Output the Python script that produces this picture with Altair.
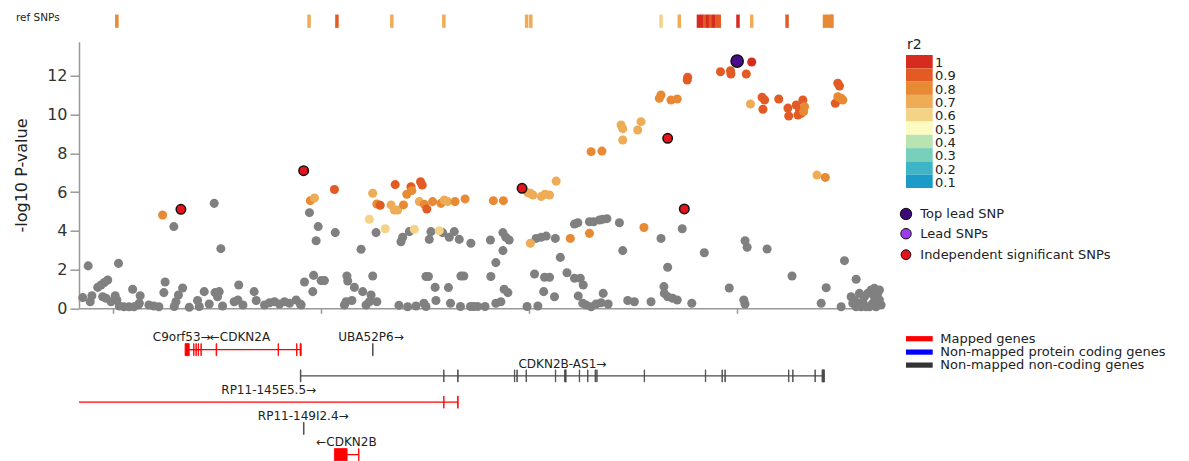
import altair as alt
import pandas as pd

# ---------------- data (positions in kb on chr9, -log10 P) ----------------
X_MIN, X_MAX = 21941.8, 22134.1
Y_MAX = 13.77

gray_pos = [21942.7, 21944.0, 21944.5, 21944.9, 21946.3, 21947.1, 21947.9, 21948.7, 21947.5, 21948.3,
            21949.5, 21950.5, 21950.9, 21951.3, 21951.5, 21952.6, 21953.8, 21955.0, 21956.0, 21954.7,
            21956.5, 21956.3, 21958.6, 21959.8, 21961.0, 21962.5, 21962.2, 21964.6, 21966.7, 21965.7,
            21965.1, 21964.7, 21968.3, 21970.3, 21970.7, 21971.9, 21973.1, 21974.3, 21974.5, 21975.1,
            21975.5, 21975.9, 21976.3, 21979.1, 21980.0, 21980.2, 21981.2, 21983.9, 21984.4, 21986.4,
            21987.6, 21988.8, 21990.0, 21991.2, 21992.4, 21994.0, 21995.2, 21996.0, 21997.2, 21995.0,
            21998.0, 21998.2, 21999.3, 21998.8, 22000.0, 22000.8, 22003.4, 22005.6, 22006.0, 22007.4,
            22006.2, 22006.4, 22008.0, 22009.6, 22010.0, 22010.8, 22011.6, 22012.0, 22012.4, 22013.4,
            22013.2, 22018.7, 22020.8, 22022.8, 22024.7, 22025.2, 22019.2, 22019.6, 22021.2, 22025.2,
            22025.8, 22026.0, 22026.4, 22027.4, 22027.6, 22029.2, 22030.6, 22030.8, 22031.1, 22032.0,
            22033.2, 22033.5, 22033.6, 22034.3, 22036.0, 22035.9, 22036.7, 22037.6, 22039.4, 22040.8,
            22040.7, 22042.0, 22042.0, 22043.2, 22043.7, 22043.7, 22044.4, 22045.2, 22044.0, 22044.9,
            22049.5, 22051.7, 22052.9, 22054.1, 22056.3, 22057.5, 22051.3, 22053.7, 22054.9, 22053.5,
            22056.1, 22052.1, 22060.9, 22061.7, 22064.5, 22065.5, 22066.9, 22067.7, 22068.7, 22059.1,
            22060.9, 22062.3, 22063.0, 22061.8, 22062.9, 22063.7, 22064.9, 22066.1, 22067.3, 22069.0,
            22067.8, 22071.7, 22072.5, 22073.7, 22075.3, 22079.3, 22081.7, 22082.4, 22082.5, 22083.3,
            22084.5, 22085.6, 22083.3, 22086.8, 22089.1, 22092.1, 22098.1, 22101.6, 22101.9, 22101.9,
            22102.4, 22107.2, 22113.2, 22125.8, 22128.6, 22121.4, 22120.2, 22125.0,
            22127.4, 22128.2, 22129.0, 22129.8, 22130.6, 22131.4, 22132.2, 22133.0, 22133.8, 22134.2,
            22132.6, 22131.0, 22128.6, 22131.8, 22133.4, 22134.6, 22129.4, 22127.8, 22130.2, 22133.0,
            22134.2]
gray_logp = [0.55, 2.19, 0.34, 0.65, 1.08, 1.20, 1.33, 1.46, 0.60, 0.52,
             0.34, 0.65, 0.43, 2.32, 0.12, 0.08, 0.08, 0.08, 0.17, 0.98,
             0.65, 0.26, 0.17, 0.12, 0.08, 1.36, 0.81, 4.22, 1.05, 0.69,
             0.34, 0.09, 0.05, 0.40, 0.09, 0.86, 0.22, 5.42, 0.81, 0.60,
             0.86, 3.08, 0.12, 0.34, 0.43, 1.20, 0.17, 0.86, 0.40, 0.17,
             0.29, 0.34, 0.22, 0.34, 0.26, 0.43, 0.17, 1.36, 4.94, 0.22,
             0.86, 1.70, 4.22, 3.49, 1.43, 1.43, 3.91, 0.17, 0.34, 0.40,
             1.67, 1.41, 1.08, 3.05, 0.86, 0.17, 0.34, 0.69, 1.67, 0.34,
             3.91, 0.15, 0.08, 0.12, 0.26, 0.09, 3.44, 3.67, 3.96, 1.64,
             1.64, 3.56, 3.96, 1.08, 0.40, 3.91, 1.07, 3.67, 0.26, 3.96,
             3.56, 0.09, 1.67, 1.67, 3.36, 0.09, 0.09, 0.09, 0.09, 1.64,
             3.53, 2.36, 0.26, 0.34, 2.98, 3.91, 3.67, 3.53, 0.98, 0.81,
             0.09, 3.61, 3.67, 3.73, 3.61, 2.63, 1.77, 1.60, 1.60, 0.86,
             0.60, 0.12, 4.35, 4.42, 4.47, 4.47, 4.56, 4.60, 4.63, 1.84,
             1.55, 1.55, 1.20, 0.64, 0.26, 0.17, 0.08, 0.22, 0.29, 0.22,
             0.77, 4.42, 2.98, 0.40, 0.34, 0.34, 3.61, 1.12, 0.77, 0.60,
             0.52, 0.43, 2.12, 4.11, 0.26, 2.87, 1.05, 0.43, 0.22, 3.49,
             3.15, 3.06, 1.67, 2.46, 1.50, 1.06, 0.26, 0.08,
             0.60, 0.43, 0.26, 0.08, 0.60, 0.77, 0.95, 1.03, 0.77, 0.43,
             0.26, 0.08, 0.08, 0.08, 0.08, 0.17, 0.77, 0.26, 0.34, 0.60,
             0.95]

ld_pos = [21961.9, 21997.4, 21998.4, 22003.2, 22011.6, 22012.4, 22013.4, 22014.2, 22015.4, 22016.8,
          22017.6, 22018.4, 22017.8, 22019.8, 22020.6, 22021.6, 22021.8, 22022.4, 22023.9, 22024.3,
          22023.6, 22024.8, 22025.4, 22026.8, 22028.4, 22028.8, 22029.6, 22030.4, 22032.2, 22034.6,
          22041.4, 22043.8, 22049.7, 22050.3, 22050.9, 22052.9, 22053.8, 22054.9, 22056.5, 22050.3,
          22059.9, 22064.5, 22064.9, 22067.5, 22072.5, 22072.1, 22072.5, 22076.1, 22076.9, 22077.6,
          22081.3, 22081.7, 22084.1, 22085.6, 22088.0, 22088.1, 22096.0, 22098.4, 22098.5, 22102.2,
          22103.5, 22103.2, 22106.0, 22106.6, 22106.2, 22110.0, 22112.2, 22112.4, 22114.2, 22115.0,
          22115.8, 22116.2, 22114.6, 22115.4, 22116.0, 22124.2, 22124.6, 22123.6, 22125.0, 22125.4,
          22124.2, 22119.2, 22121.2]
ld_logp = [4.82, 5.56, 5.70, 6.14, 4.60, 5.94, 5.39, 5.32, 4.11, 5.34,
           5.08, 5.08, 6.39, 5.34, 5.89, 6.28, 6.08, 4.08, 6.54, 6.37,
           5.51, 5.37, 5.13, 5.51, 4.01, 5.42, 5.59, 5.51, 5.51, 5.65,
           5.56, 5.56, 5.97, 5.94, 5.85, 5.77, 5.89, 5.85, 6.57, 3.36,
           3.61, 3.87, 8.09, 8.12, 8.69, 9.47, 9.28, 9.21, 9.64, 4.17,
           10.85, 11.02, 10.76, 10.81, 11.79, 11.93, 12.22, 12.27, 12.10, 12.10,
           12.72, 10.55, 10.90, 10.76, 10.28, 10.81, 10.34, 9.93, 10.50, 10.24,
           10.76, 10.41, 9.98, 10.07, 10.16, 11.62, 11.48, 10.59, 10.85, 10.76,
           10.93, 6.88, 6.76]
ld_r2 = [0.8, 0.8, 0.7, 0.9, 0.6, 0.7, 0.8, 0.9, 0.6, 0.7,
         0.7, 0.7, 0.9, 0.8, 0.8, 0.9, 0.8, 0.6, 0.9, 0.9,
         0.7, 0.8, 0.9, 0.8, 0.6, 0.8, 0.7, 0.7, 0.8, 0.8,
         0.8, 0.8, 0.7, 0.7, 0.7, 0.7, 0.7, 0.7, 0.7, 0.7,
         0.8, 0.8, 0.8, 0.8, 0.7, 0.7, 0.7, 0.7, 0.7, 0.8,
         0.8, 0.8, 0.8, 0.8, 0.9, 0.9, 0.9, 0.9, 0.9, 0.9,
         1.0, 0.7, 0.9, 0.9, 0.9, 0.9, 0.9, 0.9, 0.9, 0.9,
         0.9, 0.8, 0.9, 0.9, 0.8, 0.9, 0.9, 0.9, 0.8, 0.8,
         0.8, 0.7, 0.8]

indep_pos = [21966.3, 21995.8, 22048.3, 22083.3, 22087.3]
indep_logp = [5.11, 7.11, 6.20, 8.78, 5.13]

toplead_pos = [22100.0]
toplead_logp = [12.77]

ref_pos = [21950.9, 21997.1, 22003.8, 22017.0, 22029.5, 22049.4, 22050.4, 22081.7, 22086.1,
           22090.7, 22091.5, 22092.2, 22092.9, 22093.6, 22094.3, 22095.1, 22095.7,
           22100.2, 22103.5, 22112.0, 22121.0, 22121.7, 22122.5, 22122.8]
ref_r2 = [0.8, 0.7, 0.9, 0.7, 0.7, 0.7, 0.7, 0.6, 0.7,
          1.0, 1.0, 0.9, 1.0, 0.9, 1.0, 0.9, 0.9,
          1.0, 0.7, 0.9, 0.8, 0.8, 0.8, 0.8]

R2_LABELS = ["1", "0.9", "0.8", "0.7", "0.6", "0.5", "0.4", "0.3", "0.2", "0.1"]
R2_COLORS = ["#d62b1f", "#e35b24", "#e88a33", "#eeac56", "#f4d387",
             "#fdfbc2", "#b7e4b0", "#78d0bb", "#3db5c7", "#1c9ac8"]

# genes
gene_names = ["C9orf53", "CDKN2A", "UBA52P6", "CDKN2B-AS1", "RP11-145E5.5", "RP11-149I2.4", "CDKN2B"]
gene_labels = ["C9orf53\u2192", "\u2190CDKN2A", "UBA52P6\u2192", "CDKN2B-AS1\u2192",
               "RP11-145E5.5\u2192", "RP11-149I2.4\u2192", "\u2190CDKN2B"]
gene_start = [21967.3, 21967.3, 22012.35, 21995.0, 21941.8, 21995.75, 22003.2]
gene_end = [21971.2, 21995.2, 22012.5, 22121.0, 22032.9, 21995.9, 22009.1]
gene_row = [1, 1, 1, 2, 3, 4, 5]
gene_label_pos = [21966.5, 21980.5, 22012.0, 22058.0, 21987.4, 21995.7, 22006.1]
gene_type = ["mapped", "mapped", "noncoding", "noncoding", "mapped", "noncoding", "mapped"]

exon_gene = (["CDKN2A"] * 10 + ["UBA52P6"] + ["CDKN2B-AS1"] * 20 + ["RP11-145E5.5"] * 2
             + ["RP11-149I2.4"] + ["CDKN2B"] * 2)
exon_start = [21967.3, 21969.35, 21969.9, 21970.45, 21971.1, 21974.75, 21989.65, 21994.1, 21994.95, 21995.1,
              22012.35,
              21995.0, 22029.45, 22032.8, 22046.45, 22047.05, 22049.25, 22056.3, 22058.5, 22062.05, 22064.05,
              22065.85, 22066.25, 22077.65, 22092.35, 22096.35, 22097.05, 22112.35, 22113.35, 22118.7, 22120.4,
              22029.45, 22032.8,
              21995.75,
              22003.2, 22009.0]
exon_end = [21968.3, 21969.45, 21970.0, 21970.55, 21971.2, 21974.9, 21989.75, 21994.2, 21995.05, 21995.2,
            22012.5,
            21995.15, 22029.55, 22032.95, 22046.55, 22047.15, 22049.35, 22056.4, 22058.9, 22062.15, 22064.15,
            22065.95, 22066.35, 22077.75, 22092.45, 22096.45, 22097.15, 22112.45, 22113.45, 22118.8, 22121.0,
            22029.55, 22032.95,
            21995.9,
            22006.25, 22009.1]

GENE_COLORS = {"mapped": "#ff0000", "coding": "#0000ff", "noncoding": "#4a4a4a"}

# ---------------- frames ----------------
def r2lab(v):
    return "1" if v >= 0.95 else f"{v:.1f}"

gray_df = pd.DataFrame({"pos": gray_pos, "logp": gray_logp})
ld_df = pd.DataFrame({"pos": ld_pos, "logp": ld_logp, "r2lab": [r2lab(v) for v in ld_r2]})
indep_df = pd.DataFrame({"pos": indep_pos, "logp": indep_logp})
top_df = pd.DataFrame({"pos": toplead_pos, "logp": toplead_logp})
ref_df = pd.DataFrame({"pos": ref_pos, "r2lab": [r2lab(v) for v in ref_r2]})

gtype = dict(zip(gene_names, gene_type))
genes_df = pd.DataFrame({"name": gene_names, "label": gene_labels, "start": gene_start, "end": gene_end,
                         "row": gene_row, "lpos": gene_label_pos,
                         "col": [GENE_COLORS[t] for t in gene_type]})
grow = dict(zip(gene_names, gene_row))
exons_df = pd.DataFrame({"gene": exon_gene, "start": exon_start, "end": exon_end,
                         "row": [grow[g] for g in exon_gene],
                         "col": [GENE_COLORS[gtype[g]] for g in exon_gene]})

FONT = "DejaVu Sans"
TXT = "#222222"
W = 800
H_MAIN = 266.6
H_REF = 18
H_GENE = 147
ROW_PX = 26.25

xs = alt.Scale(domain=[X_MIN, X_MAX], nice=False, zero=False)
ys = alt.Scale(domain=[0, Y_MAX], nice=False, zero=False)
r2scale = alt.Scale(domain=R2_LABELS, range=R2_COLORS)

# ---------------- ref SNP track ----------------
ref_ticks = alt.Chart(ref_df).mark_tick(thickness=3.5, size=13.3, opacity=1).encode(
    x=alt.X("pos:Q", scale=xs, axis=None),
    y=alt.value(12.2),
    color=alt.Color("r2lab:N", scale=r2scale, legend=None),
)
ref_label = alt.Chart(pd.DataFrame({"t": ["ref SNPs"]})).mark_text(
    align="left", baseline="middle", fontSize=10.5, font=FONT, color=TXT
).encode(x=alt.value(-63), y=alt.value(9), text="t:N")
ref_chart = alt.layer(ref_ticks, ref_label).properties(width=W, height=H_REF)

# ---------------- main scatter ----------------
xaxis = alt.Axis(values=[21950, 22000, 22050, 22100], labels=False, tickSize=5, title=None, grid=False,
                 domainColor="#999999", tickColor="#999999", domainWidth=1.5, tickWidth=1.5)
yaxis = alt.Axis(values=[0, 2, 4, 6, 8, 10, 12], title="-log10 P-value", grid=False,
                 tickSize=9, labelPadding=3, titlePadding=17, labelFontSize=16, titleFontSize=16,
                 labelColor="#333333", titleColor=TXT, titleFontWeight="normal",
                 domainColor="#999999", tickColor="#999999", domainWidth=1.5, tickWidth=1.5,
                 labelFont=FONT, titleFont=FONT)

gray_layer = alt.Chart(gray_df).mark_circle(size=82, color="#808080", opacity=1).encode(
    x=alt.X("pos:Q", scale=xs, axis=xaxis),
    y=alt.Y("logp:Q", scale=ys, axis=yaxis),
)
ld_layer = alt.Chart(ld_df).mark_circle(size=82, opacity=1).encode(
    x=alt.X("pos:Q", scale=xs),
    y=alt.Y("logp:Q", scale=ys),
    color=alt.Color("r2lab:N", scale=r2scale, legend=None),
)
indep_layer = alt.Chart(indep_df).mark_point(
    shape="circle", filled=True, size=90, fill="#e3141c", stroke="#111111", strokeWidth=1.5, opacity=1
).encode(x=alt.X("pos:Q", scale=xs), y=alt.Y("logp:Q", scale=ys))
top_layer = alt.Chart(top_df).mark_point(
    shape="circle", filled=True, size=150, fill="#4a0c8e", stroke="#111111", strokeWidth=1.5, opacity=1
).encode(x=alt.X("pos:Q", scale=xs), y=alt.Y("logp:Q", scale=ys))

# r2 legend (custom, placed right of the plot)
BLK = 13.3
r2leg_df = pd.DataFrame({
    "lab": R2_LABELS, "col": R2_COLORS,
    "y0": [13.3 + i * BLK for i in range(10)],
    "y1": [13.3 + (i + 1) * BLK for i in range(10)],
    "yl": [13.3 + (i + 0.5) * BLK + 1.5 for i in range(10)],
})
r2_blocks = alt.Chart(r2leg_df).mark_rect().encode(
    x=alt.value(827), x2=alt.value(853.7),
    y=alt.Y("y0:Q", scale=None, axis=None), y2="y1:Q",
    fill=alt.Color("col:N", scale=None),
)
r2_labels = alt.Chart(r2leg_df).mark_text(
    align="left", baseline="middle", fontSize=13, font=FONT, color=TXT
).encode(x=alt.value(856), y=alt.Y("yl:Q", scale=None, axis=None), text="lab:N")
r2_title = alt.Chart(pd.DataFrame({"t": ["r2"]})).mark_text(
    align="left", baseline="middle", fontSize=14, font=FONT, color=TXT
).encode(x=alt.value(828), y=alt.value(3.5), text="t:N")

snpleg_df = pd.DataFrame({
    "lab": ["Top lead SNP", "Lead SNPs", "Independent significant SNPs"],
    "fill": ["#3a0a78", "#9b3cf0", "#e3141c"],
    "y": [172.3, 192.0, 213.0],
    "sz": [130, 110, 95],
})
snp_circles = alt.Chart(snpleg_df).mark_point(shape="circle", filled=True, stroke="#111111",
                                              strokeWidth=1, opacity=1).encode(
    x=alt.value(827), y=alt.Y("y:Q", scale=None, axis=None),
    fill=alt.Color("fill:N", scale=None), size=alt.Size("sz:Q", scale=None),
)
snp_labels = alt.Chart(snpleg_df).mark_text(
    align="left", baseline="middle", fontSize=13, font=FONT, color=TXT
).encode(x=alt.value(841.3), y=alt.Y("y:Q", scale=None, axis=None), text="lab:N")

main_chart = alt.layer(gray_layer, ld_layer, indep_layer, top_layer,
                       r2_blocks, r2_labels, r2_title, snp_circles, snp_labels
                       ).properties(width=W, height=H_MAIN)

# ---------------- gene track ----------------
gy = alt.Scale(domain=[0, H_GENE / ROW_PX], reverse=True, nice=False, zero=False)
gene_lines = alt.Chart(genes_df).mark_rule(strokeWidth=1.3, clip=True).encode(
    x=alt.X("start:Q", scale=xs, axis=None), x2="end:Q",
    y=alt.Y("row:Q", scale=gy, axis=None),
    color=alt.Color("col:N", scale=None),
)
gene_exons = alt.Chart(exons_df).transform_calculate(
    ylo="datum.row - 0.23", yhi="datum.row + 0.23"
).mark_rect(strokeWidth=0.8, clip=True).encode(
    x=alt.X("start:Q", scale=xs, axis=None), x2="end:Q",
    y=alt.Y("ylo:Q", scale=gy, axis=None), y2="yhi:Q",
    fill=alt.Color("col:N", scale=None), stroke=alt.Stroke("col:N", scale=None),
)
gene_text = alt.Chart(genes_df).transform_calculate(ly="datum.row - 0.47").mark_text(
    align="center", baseline="middle", fontSize=12, font=FONT, color=TXT
).encode(
    x=alt.X("lpos:Q", scale=xs, axis=None),
    y=alt.Y("ly:Q", scale=gy, axis=None),
    text="label:N",
)
gleg_df = pd.DataFrame({
    "lab": ["Mapped genes", "Non-mapped protein coding genes", "Non-mapped non-coding genes"],
    "col": [GENE_COLORS["mapped"], GENE_COLORS["coding"], "#333333"],
    "y": [15.3, 28.7, 41.7],
})
gleg_bars = alt.Chart(gleg_df).transform_calculate(y0="datum.y - 2.6", y1="datum.y + 2.6").mark_rect().encode(
    x=alt.value(827), x2=alt.value(853.7),
    y=alt.Y("y0:Q", scale=None, axis=None), y2="y1:Q",
    fill=alt.Color("col:N", scale=None),
)
gleg_text = alt.Chart(gleg_df).mark_text(
    align="left", baseline="middle", fontSize=13, font=FONT, color=TXT
).encode(x=alt.value(861.3), y=alt.Y("y:Q", scale=None, axis=None), text="lab:N")

gene_chart = alt.layer(gene_lines, gene_exons, gene_text, gleg_bars, gleg_text).properties(
    width=W, height=H_GENE)

chart = alt.vconcat(ref_chart, main_chart, gene_chart, spacing=14.7, bounds="flush").properties(
    padding={"left": 13, "top": 9, "right": 5, "bottom": 5}
).configure(font=FONT).configure_view(stroke=None)

chart.save("out.html", embed_options={"renderer": "svg", "actions": False})
